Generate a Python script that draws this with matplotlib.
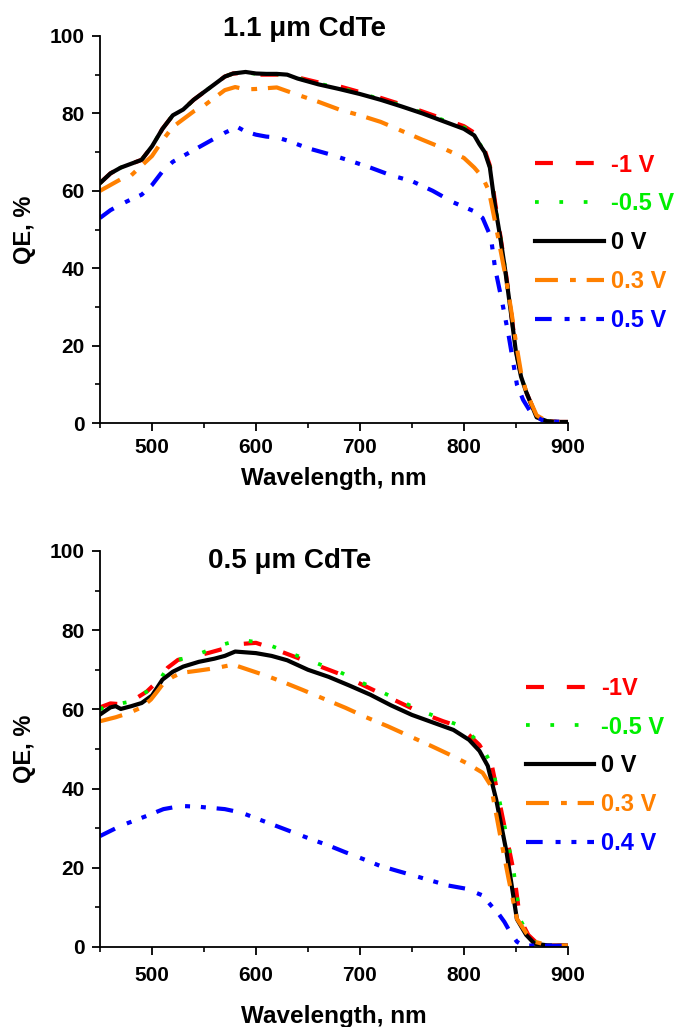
import matplotlib
matplotlib.use("Agg")
import matplotlib.pyplot as plt
from matplotlib.ticker import MultipleLocator

plt.rcParams['font.family'] = ['Liberation Sans', 'DejaVu Sans']
plt.rcParams['font.weight'] = 'bold'

# ---- 1.1 um CdTe (top) ----
wl_top_0 = [450, 460, 470, 480, 490, 500, 510, 520, 530, 540, 550, 560, 570, 578, 590, 600, 610, 620, 630,
            640, 660, 680, 700, 720, 740, 760, 780, 800, 810, 815, 820, 825, 830, 835, 840, 845, 850, 855,
            860, 870, 880, 890, 900]
qe_top_0 = [62, 64.5, 66, 67, 68, 71.5, 76, 79.5, 81, 83.5, 85.5, 87.5, 89.5, 90.3, 90.7, 90.3, 90.2, 90.2, 90,
            89, 87.5, 86.3, 85, 83.5, 81.8, 80, 78, 76, 74.3, 72, 70, 66, 56, 48, 39, 29, 18.5, 12,
            8, 1.5, 0.5, 0.3, 0.3]
qe_top_m1 = [62, 64.5, 66, 67, 68, 71.5, 76, 79.5, 81, 83.5, 85.5, 87.5, 89.5, 90.3, 90.5, 90.0, 90.0, 90.0, 90,
             89.3, 88, 87, 85.5, 84, 82.3, 80.5, 78.6, 76.7, 75, 72.5, 70.5, 66.5, 57, 48.5, 39.5, 29.5, 19, 12.3,
             8, 1.5, 0.5, 0.3, 0.3]
qe_top_m05 = [62, 64.5, 66, 67, 68, 71.5, 76, 79.5, 81, 83.5, 85.5, 87.5, 89.5, 90.3, 90.6, 90.2, 90.1, 90.1, 90,
              89.1, 87.7, 86.6, 85.2, 83.7, 82, 80.2, 78.3, 76.4, 74.8, 72.2, 70.2, 66.2, 56.5, 48.3, 39.3, 29.3, 18.8, 12.1,
              8, 1.5, 0.5, 0.3, 0.3]

wl_top_03 = [450, 460, 470, 480, 490, 500, 510, 520, 530, 540, 550, 560, 570, 580, 590, 600, 620, 640, 660,
             680, 700, 720, 740, 760, 780, 800, 810, 818, 824, 830, 835, 840, 845, 850, 855, 860, 870, 880,
             890, 900]
qe_top_03 = [60, 61.5, 63, 64, 66.5, 69, 73, 76.5, 78.5, 80.5, 82, 84, 86, 86.8, 86.2, 86.3, 86.7, 84.8, 83,
             81, 79.5, 77.8, 75.5, 73.2, 71, 68.5, 66, 63.5, 60, 52, 45, 38, 30, 21, 13, 8, 2, 0.5,
             0.3, 0.3]

wl_top_05 = [450, 460, 470, 480, 490, 500, 510, 520, 530, 540, 550, 560, 570, 582, 590, 600, 610, 620, 630,
             650, 670, 690, 710, 730, 750, 770, 790, 810, 818, 826, 830, 837, 843, 851, 857, 865, 875, 885, 900]
qe_top_05 = [53, 55, 56.5, 57.8, 59, 61.5, 65, 67.5, 69, 70.5, 72, 73.5, 75, 76.5, 75.3, 74.5, 74, 73.8, 73,
             71, 69.5, 67.8, 66, 64, 62.5, 60, 57, 54.7, 53, 48, 40, 31, 22.7, 10, 6, 2.5, 0.8, 0.4, 0.3]

# ---- 0.5 um CdTe (bottom) ----
wl_bot_0 = [450, 460, 465, 470, 480, 490, 500, 510, 520, 530, 545, 560, 570, 580, 590, 600, 615, 630, 650,
            670, 690, 710, 730, 750, 770, 790, 805, 815, 823, 831, 841, 851, 860, 868, 880, 900]
qe_bot_0 = [58.7, 60.5, 60.8, 60.1, 60.8, 61.6, 63.5, 67.5, 69.5, 70.8, 72, 72.8, 73.5, 74.6, 74.4, 74.2, 73.5,
            72.4, 70, 68.2, 66, 63.7, 61, 58.6, 56.7, 54.8, 52.3, 49.5, 45.7, 37.3, 24, 7, 3, 0.8, 0.4, 0.3]

wl_bot_m = [450, 460, 470, 480, 495, 505, 515, 525, 540, 555, 570, 585, 600, 615, 630, 645, 660, 680, 700,
            720, 740, 760, 780, 795, 805, 815, 827, 835, 848, 854, 862, 870, 880, 900]
qe_bot_m1 = [60.5, 61.5, 61.3, 62, 64.5, 67, 70.5, 72.5, 73.3, 74.3, 75.4, 76.5, 76.8, 75.5, 74, 72.5, 71, 69,
             66.5, 64, 61.5, 59, 57, 55.7, 53.5, 51, 45.7, 35.6, 18.9, 7, 3, 1, 0.5, 0.3]
qe_bot_m05 = [60, 61.5, 61.5, 62, 64.5, 66.5, 70.5, 72.5, 73.5, 75, 76.5, 77.6, 77, 76, 74.5, 73, 71.5, 69.5,
              67, 64.5, 62, 59.5, 57.5, 56, 54, 51.5, 46, 36, 19, 7, 3, 1, 0.5, 0.3]

wl_bot_03 = [450, 465, 478, 490, 499, 505, 511, 520, 528, 545, 561, 578, 595, 611, 628, 644, 665, 686, 706,
             727, 748, 769, 786, 802, 818, 826, 835, 843, 851, 860, 868, 880, 900]
qe_bot_03 = [57, 58, 59.1, 60.5, 62.5, 64.5, 66.6, 68.2, 69.2, 69.8, 70.4, 71.3, 69.8, 68.4, 66.7, 65, 62.7,
             60.4, 58, 55.7, 53.2, 50.7, 48.6, 46.5, 44, 40.7, 28, 17.2, 7.1, 3.5, 1.3, 0.5, 0.3]

wl_bot_04 = [450, 470, 495, 511, 528, 545, 553, 570, 586, 603, 619, 636, 653, 670, 686, 703, 719, 736, 752,
             769, 785, 802, 818, 826, 833, 839, 845, 851, 857, 870, 885, 900]
qe_bot_04 = [28, 30.6, 33.1, 34.8, 35.6, 35.4, 35.2, 34.8, 33.9, 32.2, 30.6, 28.9, 27.2, 25.6, 23.9, 22.2,
             20.5, 19.2, 18, 16.7, 15.5, 14.7, 13, 10.5, 8.5, 6.3, 3.5, 1.3, 0.4, 0.3, 0.3, 0.3]

colors = ['#ff0000', '#00ee00', '#000000', '#ff8000', '#0000ff']
dashes = [(4.3, 5.5), (1, 5.5), None, (5.5, 2.9, 1.4, 2.6), (4, 3.1, 1.2, 2.6, 1.2, 2.6)]
lws = [3.0, 2.7, 3.0, 3.0, 3.0]

top_series = [(wl_top_0, qe_top_m1, '-1 V'), (wl_top_0, qe_top_m05, '-0.5 V'), (wl_top_0, qe_top_0, '0 V'),
              (wl_top_03, qe_top_03, '0.3 V'), (wl_top_05, qe_top_05, '0.5 V')]
bot_series = [(wl_bot_m, qe_bot_m1, '-1V'), (wl_bot_m, qe_bot_m05, '-0.5 V'), (wl_bot_0, qe_bot_0, '0 V'),
              (wl_bot_03, qe_bot_03, '0.3 V'), (wl_bot_04, qe_bot_04, '0.4 V')]

fig = plt.figure(figsize=(6.76, 10.27), dpi=100)
ax1 = fig.add_axes([0.148, 0.588, 0.692, 0.377])
ax2 = fig.add_axes([0.148, 0.078, 0.692, 0.3855])


def draw_panel(ax, series, title, title_xy, leg_anchor, xpad, xlabelpad):
    for (x, y, lab), c, d, lw in zip(series, colors, dashes, lws):
        line, = ax.plot(x, y, color=c, lw=lw, label=lab)
        if d is not None:
            line.set_dashes(d)
    ax.set_xlim(450, 900)
    ax.set_ylim(0, 100)
    ax.xaxis.set_major_locator(MultipleLocator(100))
    ax.xaxis.set_minor_locator(MultipleLocator(50))
    ax.yaxis.set_major_locator(MultipleLocator(20))
    ax.yaxis.set_minor_locator(MultipleLocator(10))
    ax.spines['top'].set_visible(False)
    ax.spines['right'].set_visible(False)
    ax.spines['left'].set_linewidth(1.3)
    ax.spines['bottom'].set_linewidth(1.3)
    ax.tick_params(which='major', direction='out', length=6, width=1.3, labelsize=15, pad=5)
    ax.tick_params(axis='x', which='major', pad=xpad)
    ax.tick_params(which='minor', direction='out', length=3.5, width=1.2)
    for t in ax.get_xticklabels() + ax.get_yticklabels():
        t.set_fontweight('bold')
    ax.set_xlabel('Wavelength, nm', fontsize=17.5, fontweight='bold', labelpad=xlabelpad)
    ax.set_ylabel('QE, %', fontsize=17, fontweight='bold', labelpad=10)
    ax.text(title_xy[0], title_xy[1], title, fontsize=20, fontweight='bold', ha='center', va='baseline')
    leg = ax.legend(loc='upper left', bbox_to_anchor=leg_anchor, bbox_transform=fig.transFigure,
                    frameon=False, fontsize=17, handlelength=2.9, handletextpad=0.3,
                    labelspacing=0.67, borderpad=0, borderaxespad=0)
    for txt, c in zip(leg.get_texts(), colors):
        txt.set_color(c)
        txt.set_fontweight('bold')


draw_panel(ax1, top_series, '1.1 \u03bcm CdTe', (647, 100), (0.792, 0.8505), 5, 7)
draw_panel(ax2, bot_series, '0.5 \u03bcm CdTe', (632, 95.7), (0.778, 0.341), 8, 14)

fig.savefig('out.png', dpi=100)
